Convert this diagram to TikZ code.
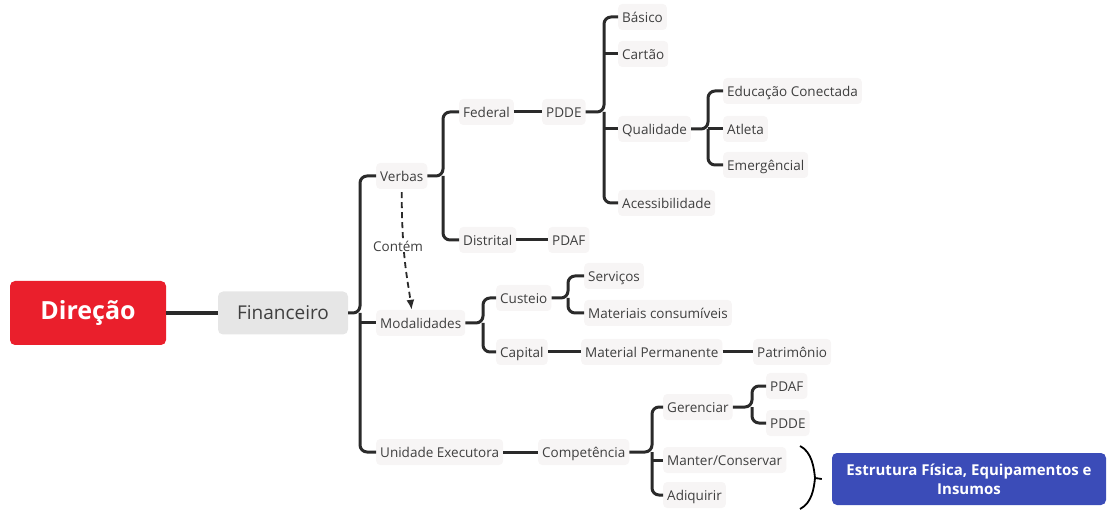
\documentclass[tikz,border=0pt]{standalone}
\usepackage{fontspec}
\setmainfont{Open Sans}
\usepackage{tikz}
\usetikzlibrary{arrows.meta, positioning, calc}
\definecolor{mred}{HTML}{EA1F2C}
\definecolor{mgraybox}{HTML}{E6E6E6}
\definecolor{mleaf}{HTML}{F7F5F5}
\definecolor{mblue}{HTML}{3B4CB8}
\definecolor{mline}{HTML}{2A2A2A}
\definecolor{mtext}{HTML}{3F3F3F}
\tikzset{
  rootbox/.style={fill=mred, rounded corners=5pt, text=white,
                  font=\fontsize{25}{28}\selectfont\bfseries,
                  minimum width=156pt, minimum height=64pt},
  mainbox/.style={fill=mgraybox, rounded corners=5pt, text=mtext,
                  font=\fontsize{19}{22}\selectfont,
                  minimum width=130pt, minimum height=43pt},
  leaf/.style={fill=mleaf, rounded corners=4pt, text=mtext, anchor=west,
               font=\fontsize{13.5}{16}\selectfont, inner xsep=4pt, inner ysep=0pt,
               text height=12.5pt, text depth=1.5pt, minimum height=26pt},
  goalbox/.style={fill=mblue, rounded corners=5pt, text=white, align=center,
                  font=\fontsize{15}{19}\selectfont\bfseries,
                  minimum width=274pt, minimum height=52pt},
  lbl/.style={fill=white, text=mtext, font=\fontsize{13.5}{16}\selectfont, inner sep=1pt},
  link/.style={line width=3pt, mline, rounded corners=7pt},
  trunk/.style={line width=4pt, mline},
  contem/.style={-{Latex[length=10pt,width=8pt]}, dash pattern=on 6pt off 4pt,
                 line width=1.8pt, mline},
  brace/.style={line width=1.8pt, black},
}
\begin{document}
\begin{tikzpicture}[x=1pt, y=-1pt]
    \useasboundingbox (0,0) rectangle (1108,510);
    % root and first level
    \node[rootbox] (dir) at (88,313) {Direção};
    \node[mainbox] (fin) at (283,313) {Financeiro};
    \draw[trunk] (dir.east) -- (fin.west);

    \node[leaf] (verbas) at (376,176) {Verbas};
    \node[leaf] (modal) at (376,323) {Modalidades};
    \node[leaf] (unid) at (376,452) {Unidade Executora};

    \coordinate (fs) at (360,313);
    \draw[link] (fin.east) -- (fs) |- (verbas.west);
    \draw[link] (fs) |- (unid.west);
    \draw[link] (fs |- modal.west) -- (modal.west);

    % Verbas
    \node[leaf] (federal) at (459,112) {Federal};
    \node[leaf] (distrital) at (459,240) {Distrital};
    \node[leaf] (pdde) at (542,112) {PDDE};
    \node[leaf] (pdaf) at (548,240) {PDAF};

    \coordinate (vs) at (443,176);
    \draw[link] (verbas.east) -- (vs) |- (federal.west);
    \draw[link] (vs) |- (distrital.west);
    \draw[link] (federal.east) -- (pdde.west);
    \draw[link] (distrital.east) -- (pdaf.west);

    % PDDE
    \node[leaf] (basico) at (618,17) {Básico};
    \node[leaf] (cartao) at (618,54) {Cartão};
    \node[leaf] (qualid) at (618,129) {Qualidade};
    \node[leaf] (acess) at (618,203) {Acessibilidade};

    \coordinate (ps) at (604,112);
    \draw[link] (pdde.east) -- (ps) |- (basico.west);
    \draw[link] (ps) |- (acess.west);
    \draw[link] (ps |- cartao.west) -- (cartao.west);
    \draw[link] (ps |- qualid.west) -- (qualid.west);

    \node[leaf] (educ) at (723,91) {Educação Conectada};
    \node[leaf] (atleta) at (723,129) {Atleta};
    \node[leaf] (emerg) at (723,165) {Emergêncial};

    \coordinate (qs) at (708,129);
    \draw[link] (qualid.east) -- (qs) |- (educ.west);
    \draw[link] (qs) |- (emerg.west);
    \draw[link] (qs) -- (atleta.west);

    % Modalidades
    \node[leaf] (custeio) at (496,298) {Custeio};
    \node[leaf] (capital) at (496,352) {Capital};
    \node[leaf] (servicos) at (584,276) {Serviços};
    \node[leaf] (materiais) at (584,313) {Materiais consumíveis};
    \node[leaf] (matperm) at (581,352) {Material Permanente};
    \node[leaf] (patrim) at (753,352) {Patrimônio};

    \coordinate (ms) at (483,323);
    \draw[link] (modal.east) -- (ms) |- (custeio.west);
    \draw[link] (ms) |- (capital.west);
    \coordinate (cs) at (568,298);
    \draw[link] (custeio.east) -- (cs) |- (servicos.west);
    \draw[link] (cs) |- (materiais.west);
    \draw[link] (capital.east) -- (matperm.west);
    \draw[link] (matperm.east) -- (patrim.west);

    % Contém
    \draw[contem] ([yshift=-3pt]verbas.south) .. controls +(0,65) and +(-4,-30) .. ([xshift=-9pt]modal.north);
    \node[lbl] (cont) at (398,246) {Contém};

    % Unidade Executora
    \node[leaf] (compet) at (538,452) {Competência};
    \draw[link] (unid.east) -- (compet.west);

    \node[leaf] (geren) at (663,407) {Gerenciar};
    \node[leaf] (manter) at (663,460) {Manter/Conservar};
    \node[leaf] (adiq) at (663,495) {Adiquirir};

    \coordinate (es) at (652,452);
    \draw[link] (compet.east) -- (es) |- (geren.west);
    \draw[link] (es) |- (adiq.west);
    \draw[link] (es |- manter.west) -- (manter.west);

    \node[leaf] (gpdaf) at (766,386) {PDAF};
    \node[leaf] (gpdde) at (766,423) {PDDE};

    \coordinate (gs) at (752,407);
    \draw[link] (geren.east) -- (gs) |- (gpdaf.west);
    \draw[link] (gs) |- (gpdde.west);

    % brace to goal
    \node[goalbox] (goal) at (969,479) {Estrutura Física, Equipamentos e\\Insumos};
    \coordinate (brT) at (800,446);
    \coordinate (brM) at (815,478);
    \coordinate (brB) at (800,509);
    \draw[brace] (brT) .. controls (812,452) and (814,468) .. (brM)
                 .. controls (814,488) and (812,503) .. (brB);
    \draw[brace] (brM) -- ([xshift=-10pt]goal.west);
\end{tikzpicture}
\end{document}
